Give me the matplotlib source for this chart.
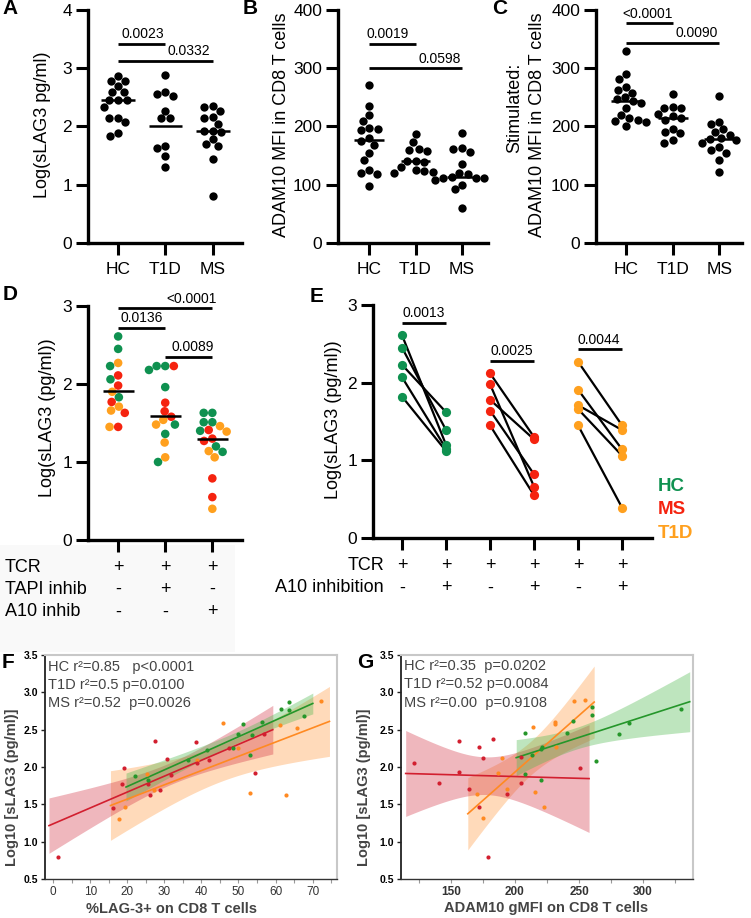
import numpy as np
import matplotlib
matplotlib.use('Agg')
import matplotlib.pyplot as plt
from matplotlib.transforms import blended_transform_factory
from matplotlib.patches import Rectangle

plt.rcParams['font.family'] = ['Liberation Sans', 'DejaVu Sans']

# ---------------- data ----------------
cats = ['HC', 'T1D', 'MS']

A_HC = [2.78, 2.78, 2.87, 2.59, 2.59, 2.69, 2.45, 2.45, 2.45, 2.33, 2.15, 2.15, 2.07, 1.83, 1.88]
A_T1D = [2.89, 2.53, 2.56, 2.60, 2.27, 2.14, 2.14, 1.66, 1.63, 1.49, 1.31]
A_MS = [2.34, 2.35, 2.27, 2.17, 2.15, 2.05, 1.93, 1.93, 1.70, 1.78, 1.66, 1.45, 0.80, 1.90]
A_median = [2.45, 2.00, 1.92]

B_HC = [272, 236, 220, 210, 197, 194, 196, 180, 175, 168, 155, 143, 126, 120, 119, 97]
B_T1D = [187, 173, 162, 160, 158, 141, 140, 139, 130, 124, 122, 121, 125]
B_MS = [189, 163, 162, 157, 135, 121, 118, 114, 112, 112, 111, 108, 100, 92, 60]
B_median = [177, 140, 113]

C_HC = [330, 290, 282, 268, 262, 258, 250, 247, 243, 240, 232, 220, 215, 212, 210, 208, 201]
C_T1D = [256, 233, 232, 231, 222, 218, 215, 212, 195, 190, 188, 176, 172]
C_MS = [252, 208, 205, 195, 190, 185, 180, 178, 176, 172, 165, 160, 155, 143, 122]
C_median = [243, 215, 178]

D_TCR_vals = [2.61, 2.45, 2.23, 2.06, 1.83, 2.11, 1.98, 1.77, 1.63, 1.45, 2.27, 1.90, 1.71, 1.66, 1.45]
D_TCR_grp = ['HC'] * 5 + ['MS'] * 5 + ['T1D'] * 5
D_TAPI_vals = [2.18, 2.23, 2.23, 1.96, 1.48, 1.36, 1.00, 2.23, 1.76, 1.65, 1.58, 1.48, 1.54, 1.25, 1.06]
D_TAPI_grp = ['HC'] * 7 + ['MS'] * 4 + ['T1D'] * 4
D_A10_vals = [1.63, 1.63, 1.51, 1.51, 1.40, 1.20, 1.13, 1.46, 1.39, 1.14, 1.06, 0.40, 1.41, 1.30, 1.27, 0.79, 0.55]
D_A10_grp = ['HC'] * 7 + ['T1D'] * 5 + ['MS'] * 5
D_median = [1.91, 1.59, 1.29]
D_rows = ['TCR', 'TAPI inhib', 'A10 inhib']
D_signs = [['+', '+', '+'], ['-', '+', '-'], ['-', '-', '+']]

E_groups = ['HC', 'MS', 'T1D']
E_before = {'HC': [2.61, 2.45, 2.23, 2.07, 1.82],
            'MS': [2.12, 1.98, 1.78, 1.64, 1.45],
            'T1D': [2.27, 1.91, 1.71, 1.66, 1.45]}
E_after = {'HC': [1.20, 1.39, 1.62, 1.15, 1.12],
           'MS': [1.30, 0.66, 1.27, 0.82, 0.55],
           'T1D': [1.45, 1.14, 1.39, 1.06, 0.39]}
E_rows = ['TCR', 'A10 inhibition']
E_signs = [['+'] * 6, ['-', '+', '-', '+', '-', '+']]

F_HC_x = [22.0, 25.5, 36.5, 41.6, 48.6, 50.0, 51.3, 53.1, 53.6, 56.3, 61.5, 63.7, 63.7, 67.7]
F_HC_y = [1.88, 1.82, 2.10, 2.23, 2.25, 2.44, 2.57, 2.16, 2.43, 2.60, 2.78, 2.87, 2.76, 2.68]
F_T1D_x = [17.8, 19.4, 25.2, 27.2, 38.9, 45.9, 49.8, 53.0, 61.2, 62.7, 65.7, 72.2]
F_T1D_y = [1.31, 1.46, 1.90, 1.69, 2.10, 2.59, 2.26, 1.65, 2.56, 1.63, 2.52, 2.88]
F_MS_x = [1.2, 16.0, 18.6, 19.2, 25.5, 26.1, 27.5, 28.8, 30.6, 31.8, 38.4, 38.7, 42.1, 47.5, 54.5, 56.9]
F_MS_y = [0.79, 1.45, 1.77, 1.98, 1.77, 1.63, 2.35, 1.69, 2.11, 1.89, 2.34, 2.06, 2.10, 2.25, 1.92, 2.44]
F_stats = ['HC r\u00b2=0.85   p<0.0001', 'T1D r\u00b2=0.5 p=0.0100', 'MS r\u00b2=0.52  p=0.0026']

G_HC_x = [207.8, 207.8, 213, 220, 221, 220, 241, 245, 260, 260, 263, 281.6, 289, 329.6]
G_HC_y = [2.45, 1.90, 2.16, 2.24, 2.27, 1.83, 2.46, 2.62, 2.80, 2.70, 2.08, 2.44, 2.59, 2.78]
G_T1D_x = [170, 175, 190, 186.5, 193.5, 214, 216, 223, 231, 231, 232, 246, 255]
G_T1D_y = [1.64, 1.32, 2.12, 1.92, 1.71, 2.53, 1.66, 1.46, 2.60, 2.57, 2.27, 2.89, 2.90]
G_MS_x = [121.5, 141, 156, 156, 164, 172, 172, 175, 183, 179, 193.5, 205, 205, 251]
G_MS_y = [2.06, 1.78, 2.35, 1.93, 1.70, 2.27, 1.46, 2.12, 2.37, 0.79, 1.64, 2.13, 1.78, 1.99]
G_stats = ['HC r\u00b2=0.35  p=0.0202', 'T1D r\u00b2=0.52 p=0.0084', 'MS r\u00b2=0.00  p=0.9108']

# ---------------- styles ----------------
COL = {'HC': '#0f9150', 'MS': '#f5230f', 'T1D': '#ffa01e'}
RCOL = {'HC': '#25962a', 'MS': '#d21f2f', 'T1D': '#ff8a22'}
BCOL = {'HC': '#4cb84c', 'MS': '#d43848', 'T1D': '#ff9a40'}

W, H = 751, 918
fig = plt.figure(figsize=(W / 100, H / 100), dpi=100)


def rect(l, t, r, b):
    return [l / W, 1 - b / H, (r - l) / W, (b - t) / H]


def fx(x):
    return x / W


def fy(y):
    return 1 - y / H


# very light grey background patch behind the D table
fig.patches.append(Rectangle((0, fy(652)), fx(235), fy(545) - fy(652), transform=fig.transFigure,
                             facecolor='#f9f9f9', edgecolor='none', zorder=-10))


def prism(ax, xlim, ylim, yticks, xticks, xlabels):
    ax.set_xlim(*xlim)
    ax.set_ylim(*ylim)
    ax.patch.set_visible(False)
    for s in ['top', 'right']:
        ax.spines[s].set_visible(False)
    for s in ['left', 'bottom']:
        ax.spines[s].set_linewidth(2.4)
    ax.tick_params(axis='both', width=2.2, length=8.5, labelsize=12.5, direction='out')
    ax.tick_params(axis='y', pad=3)
    ax.tick_params(axis='x', pad=5)
    ax.set_yticks(yticks)
    ax.set_xticks(xticks)
    ax.set_xticklabels(xlabels)


def swarm(ax, xc, vals, diam_px):
    tr = ax.transData
    vals = np.asarray(vals, float)
    ys = tr.transform(np.column_stack([np.full(len(vals), xc), vals]))[:, 1]
    order = np.argsort(-ys)
    placed = []
    offs = np.zeros(len(vals))
    for i in order:
        y = ys[i]
        nb = [(px, py) for px, py in placed if abs(py - y) < diam_px]
        cands = [0.0]
        for px, py in nb:
            dx = np.sqrt(max(diam_px ** 2 - (py - y) ** 2, 0))
            cands += [px + dx, px - dx]
        cands = sorted(cands, key=lambda c: (abs(c), c))
        chosen = cands[-1]
        for c in cands:
            if all((c - px) ** 2 + (y - py) ** 2 >= diam_px ** 2 - 1e-6 for px, py in nb):
                chosen = c
                break
        placed.append((chosen, y))
        offs[i] = chosen
    ppu = tr.transform((1, 0))[0] - tr.transform((0, 0))[0]
    return xc + offs / ppu


def bracket(ax, x1, x2, y, text, tx):
    ax.plot([x1, x2], [y, y], color='k', lw=2.0, solid_capstyle='butt', clip_on=False, zorder=5)
    ax.annotate(text, (tx, y), xytext=(0, 4), textcoords='offset points', ha='center',
                va='baseline', fontsize=10, annotation_clip=False)


def median_lines(ax, meds, half=0.33):
    for i, m in enumerate(meds):
        ax.plot([i - half, i + half], [m, m], color='k', lw=1.8, zorder=4, solid_capstyle='butt')


def letter(x, y, s):
    fig.text(fx(x), fy(y), s, fontsize=15, fontweight='bold', ha='left', va='center')


def ylab(x, y, s, size=13, **kw):
    fig.text(fx(x), fy(y), s, rotation=90, ha='center', va='center', fontsize=size, **kw)


SW = 8.6  # swarm collision diameter in pixels

# ---------------- Panel A ----------------
axA = fig.add_axes(rect(88, 10, 242, 243))
prism(axA, (-0.63, 2.61), (0, 4), [0, 1, 2, 3, 4], [0, 1, 2], cats)
for i, g in enumerate([A_HC, A_T1D, A_MS]):
    xs = swarm(axA, i, g, SW)
    axA.scatter(xs, g, s=36, color='k', linewidths=0, zorder=3, clip_on=False)
median_lines(axA, A_median, 0.35)
bracket(axA, 0, 1, 3.42, '0.0023', 0.53)
bracket(axA, 0, 2, 3.13, '0.0332', 1.49)
ylab(43, 125, 'Log(sLAG3 pg/ml)')
letter(2, 9, 'A')

# ---------------- Panel B ----------------
axB = fig.add_axes(rect(338, 10, 488, 243))
prism(axB, (-0.67, 2.56), (0, 400), [0, 100, 200, 300, 400], [0, 1, 2], cats)
for i, g in enumerate([B_HC, B_T1D, B_MS]):
    xs = swarm(axB, i, g, SW)
    axB.scatter(xs, g, s=36, color='k', linewidths=0, zorder=3, clip_on=False)
median_lines(axB, B_median, 0.32)
bracket(axB, 0, 1, 342, '0.0019', 0.40)
bracket(axB, 0, 2, 300, '0.0598', 1.52)
ylab(282, 125, 'ADAM10 MFI in CD8 T cells')
letter(243, 9, 'B')

# ---------------- Panel C ----------------
axC = fig.add_axes(rect(596, 10, 742, 243))
prism(axC, (-0.645, 2.49), (0, 400), [0, 100, 200, 300, 400], [0, 1, 2], cats)
for i, g in enumerate([C_HC, C_T1D, C_MS]):
    xs = swarm(axC, i, g, SW)
    axC.scatter(xs, g, s=36, color='k', linewidths=0, zorder=3, clip_on=False)
median_lines(axC, C_median, 0.32)
bracket(axC, 0, 1, 377, '<0.0001', 0.47)
bracket(axC, 0, 2, 344, '0.0090', 1.52)
ylab(515, 108, 'Stimulated:')
ylab(538, 125, 'ADAM10 MFI in CD8 T cells')
letter(492, 9, 'C')

# ---------------- Panel D ----------------
axD = fig.add_axes(rect(88, 306, 242, 540))
prism(axD, (-0.64, 2.63), (0, 3), [0, 1, 2, 3], [0, 1, 2], ['', '', ''])
for i, (vals, grp) in enumerate([(D_TCR_vals, D_TCR_grp), (D_TAPI_vals, D_TAPI_grp),
                                 (D_A10_vals, D_A10_grp)]):
    xs = swarm(axD, i, vals, SW)
    axD.scatter(xs, vals, s=38, c=[COL[g] for g in grp], linewidths=0, zorder=3, clip_on=False)
median_lines(axD, D_median, 0.33)
bracket(axD, 0, 2, 2.97, '<0.0001', 1.56)
bracket(axD, 0, 1, 2.72, '0.0136', 0.49)
bracket(axD, 1, 2, 2.35, '0.0089', 1.59)
ylab(47, 418, 'Log(sLAG3 (pg/ml))')
letter(3, 295, 'D')
trD = blended_transform_factory(axD.transData, fig.transFigure)
for r, (lab, signs) in enumerate(zip(D_rows, D_signs)):
    yy = fy([567, 589, 612][r])
    fig.text(fx(5), yy, lab, fontsize=13, ha='left', va='center')
    for i, s in enumerate(signs):
        axD.text(i, yy, s, transform=trD, fontsize=13, ha='center', va='center', clip_on=False)

# ---------------- Panel E ----------------
axE = fig.add_axes(rect(373, 305, 652, 538))
prism(axE, (-0.66, 5.68), (0, 3), [0, 1, 2, 3], list(range(6)), [''] * 6)
for gi, g in enumerate(E_groups):
    x0, x1 = 2 * gi, 2 * gi + 1
    for b, a in zip(E_before[g], E_after[g]):
        axE.plot([x0, x1], [b, a], color='k', lw=1.6, zorder=2)
    axE.scatter([x0] * 5, E_before[g], s=44, color=COL[g], linewidths=0, zorder=3, clip_on=False)
    axE.scatter([x1] * 5, E_after[g], s=44, color=COL[g], linewidths=0, zorder=3, clip_on=False)
bracket(axE, 0, 1, 2.77, '0.0013', 0.5)
bracket(axE, 2, 3, 2.28, '0.0025', 2.5)
bracket(axE, 4, 5, 2.43, '0.0044', 4.48)
ylab(333, 420, 'Log(sLAG3 (pg/ml))')
letter(310, 296, 'E')
trE = blended_transform_factory(axE.transData, fig.transFigure)
for r, (lab, signs) in enumerate(zip(E_rows, E_signs)):
    yy = fy([565, 588][r])
    fig.text(fx(384), yy, lab, fontsize=13, ha='right', va='center')
    for i, s in enumerate(signs):
        axE.text(i, yy, s, transform=trE, fontsize=13, ha='center', va='center', clip_on=False)
for k, g in enumerate(['HC', 'MS', 'T1D']):
    fig.text(fx(658), fy([487, 510, 533][k]), g, color=COL[g], fontsize=13.5,
             fontweight='bold', ha='left', va='center')

# ---------------- regression panels ----------------
TT = {8: 2.306, 9: 2.262, 10: 2.228, 11: 2.201, 12: 2.179, 13: 2.160, 14: 2.145, 15: 2.131, 16: 2.120}


def regress(ax, x, y, key, xlim):
    x = np.asarray(x, float)
    y = np.asarray(y, float)
    n = len(x)
    b, a = np.polyfit(x, y, 1)
    xm = x.mean()
    sxx = ((x - xm) ** 2).sum()
    s = np.sqrt(((y - (a + b * x)) ** 2).sum() / (n - 2))
    ext = 0.03 * (xlim[1] - xlim[0])
    xs = np.linspace(max(x.min() - ext, xlim[0]), min(x.max() + ext, xlim[1]), 120)
    yh = a + b * xs
    se = s * np.sqrt(1.0 / n + (xs - xm) ** 2 / sxx)
    t = TT.get(n - 2, 2.1)
    ax.fill_between(xs, yh - t * se, yh + t * se, color=BCOL[key], alpha=0.36, linewidth=0, zorder=1)
    ax.plot(xs, yh, color=RCOL[key], lw=1.2, zorder=2)


def reg_style(ax, xlim, xticks, xminor, boldx):
    ax.set_xlim(*xlim)
    ax.set_ylim(0.5, 3.5)
    ax.set_yticks(np.arange(0.5, 3.51, 0.5))
    ax.set_yticklabels(['%.1f' % v for v in np.arange(0.5, 3.51, 0.5)], fontweight='bold', fontsize=7.5)
    ax.set_xticks(xticks)
    ax.set_xticks(xminor, minor=True)
    ax.set_xticklabels([str(v) for v in xticks], fontsize=8.5,
                       fontweight='bold' if boldx else 'normal', color='#333333')
    for s in ['top', 'right']:
        ax.spines[s].set_color('#c8c8c8')
        ax.spines[s].set_linewidth(1.5)
    ax.spines['left'].set_color('#222222')
    ax.spines['left'].set_linewidth(1.3)
    ax.spines['bottom'].set_color('#333333')
    ax.spines['bottom'].set_linewidth(1.0)
    ax.tick_params(axis='y', length=3, width=1.0, color='#222222', pad=2)
    ax.tick_params(axis='x', which='both', length=3, width=0.8, color='#999999', pad=2)


# ---------------- Panel F ----------------
axF = fig.add_axes(rect(45, 655, 337, 879))
fxlim = (-2.24, 76.6)
reg_style(axF, fxlim, list(range(0, 71, 10)), list(range(5, 76, 10)), False)
for key, xx, yy in [('T1D', F_T1D_x, F_T1D_y), ('MS', F_MS_x, F_MS_y), ('HC', F_HC_x, F_HC_y)]:
    regress(axF, xx, yy, key, fxlim)
for key, xx, yy in [('T1D', F_T1D_x, F_T1D_y), ('MS', F_MS_x, F_MS_y), ('HC', F_HC_x, F_HC_y)]:
    axF.scatter(xx, yy, s=9, color=RCOL[key], linewidths=0, zorder=3)
for k, s in enumerate(F_stats):
    fig.text(fx(48), fy([670.5, 689, 707][k]), s, fontsize=10.5, color='#444444', ha='left', va='baseline')
ylab(12, 787, 'Log10 [sLAG3 (pg/ml)]', size=10.5, fontweight='bold', color='#444444')
fig.text(fx(172), fy(909), '%LAG-3+ on CD8 T cells', fontsize=10.5, fontweight='bold',
         color='#444444', ha='center', va='center')
letter(2, 662, 'F')

# ---------------- Panel G ----------------
axG = fig.add_axes(rect(401, 655, 693, 879))
gxlim = (111, 339)
reg_style(axG, gxlim, [150, 200, 250, 300], [125, 175, 225, 275, 325], True)
for key, xx, yy in [('T1D', G_T1D_x, G_T1D_y), ('MS', G_MS_x, G_MS_y), ('HC', G_HC_x, G_HC_y)]:
    regress(axG, xx, yy, key, gxlim)
for key, xx, yy in [('T1D', G_T1D_x, G_T1D_y), ('MS', G_MS_x, G_MS_y), ('HC', G_HC_x, G_HC_y)]:
    axG.scatter(xx, yy, s=9, color=RCOL[key], linewidths=0, zorder=3)
for k, s in enumerate(G_stats):
    fig.text(fx(404), fy([670, 688, 707][k]), s, fontsize=10.5, color='#444444', ha='left', va='baseline')
ylab(364, 787, 'Log10 [sLAG3 (pg/ml)]', size=10.5, fontweight='bold', color='#444444')
fig.text(fx(546), fy(908), 'ADAM10 gMFI on CD8 T cells', fontsize=10.5, fontweight='bold',
         color='#444444', ha='center', va='center')
letter(357, 662, 'G')

fig.savefig('out.png', dpi=100)
